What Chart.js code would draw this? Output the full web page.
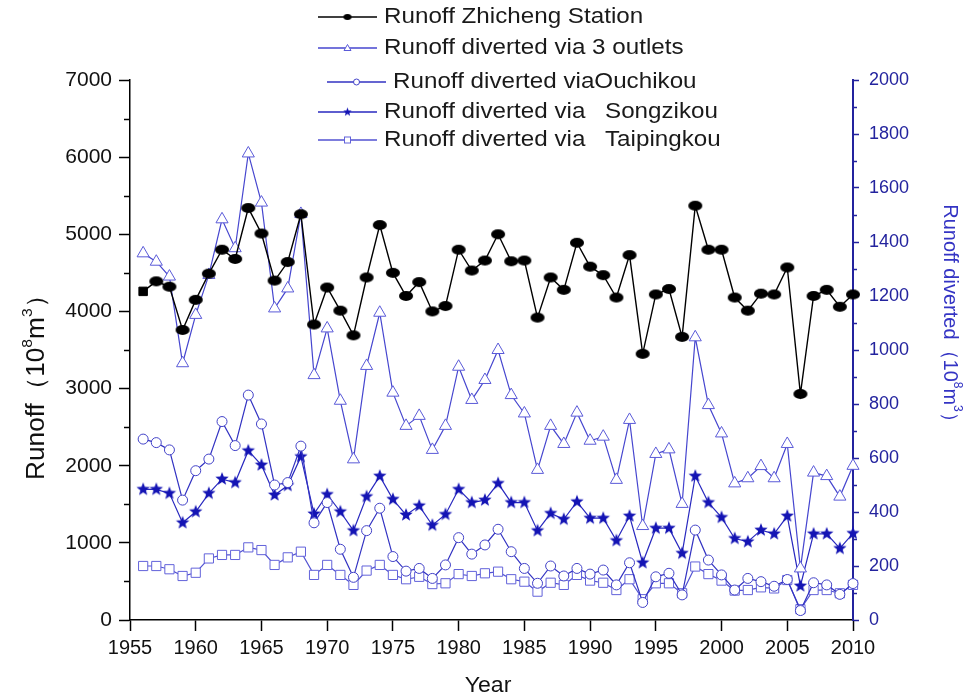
<!DOCTYPE html>
<html>
<head>
<meta charset="utf-8">
<script src="https://cdn.jsdelivr.net/npm/chart.js@4.4.0/dist/chart.umd.min.js"></script>
<style>
  html, body { margin: 0; padding: 0; background: #fff; }
  #wrap { width: 968px; height: 700px; }
</style>
</head>
<body>
<div id="wrap"><canvas id="runoffChart" width="968" height="700"></canvas></div>
<script>
const years = [
	1956, 1957, 1958, 1959, 1960, 1961, 1962, 1963, 1964, 1965,
	1966, 1967, 1968, 1969, 1970, 1971, 1972, 1973, 1974, 1975,
	1976, 1977, 1978, 1979, 1980, 1981, 1982, 1983, 1984, 1985,
	1986, 1987, 1988, 1989, 1990, 1991, 1992, 1993, 1994, 1995,
	1996, 1997, 1998, 1999, 2000, 2001, 2002, 2003, 2004, 2005,
	2006, 2007, 2008, 2009, 2010,
];

// left axis, 10^8 m3
const zhicheng = [
	4260, 4390, 4320, 3760, 4150, 4490, 4800, 4680, 5340, 5010,
	4400, 4640, 5260, 3830, 4310, 4010, 3690, 4440, 5120, 4500,
	4200, 4380, 4000, 4070, 4800, 4530, 4660, 5000, 4650, 4660,
	3920, 4440, 4280, 4890, 4580, 4470, 4180, 4730, 3450, 4220,
	4290, 3670, 5370, 4800, 4800, 4180, 4010, 4230, 4220, 4570,
	2930, 4200, 4280, 4060, 4220,
];

// right axis, 10^8 m3
const threeOutlets = [
	1358, 1327, 1272, 951, 1130, 1278, 1484, 1377, 1728, 1546,
	1154, 1228, 1504, 907, 1080, 812, 595, 941, 1138, 842,
	719, 756, 630, 719, 938, 815, 889, 1000, 833, 765,
	556, 719, 652, 768, 664, 679, 519, 741, 348, 615,
	632, 430, 1047, 796, 691, 506, 525, 570, 525, 652,
	191, 546, 533, 457, 571,
];

const ouchikou = [
	670, 657, 630, 444, 553, 596, 735, 646, 833, 726,
	500, 509, 644, 360, 435, 262, 158, 331, 414, 235,
	181, 191, 154, 204, 305, 244, 278, 336, 253, 191,
	136, 200, 163, 191, 170, 185, 130, 212, 65, 160,
	173, 93, 333, 222, 167, 111, 154, 142, 125, 150,
	35, 138, 130, 95, 135,
];

const songzikou = [
	484, 484, 469, 360, 401, 469, 522, 509, 627, 574,
	463, 498, 605, 393, 465, 401, 331, 457, 533, 447,
	389, 423, 351, 391, 484, 435, 444, 506, 435, 435,
	331, 395, 373, 438, 377, 377, 294, 385, 212, 340,
	340, 247, 533, 435, 380, 302, 290, 333, 319, 385,
	126, 319, 319, 265, 321,
];

const taipingkou = [
	200, 200, 188, 163, 175, 228, 241, 241, 269, 259,
	204, 232, 253, 167, 204, 167, 130, 183, 204, 167,
	151, 160, 133, 136, 170, 163, 173, 179, 151, 142,
	105, 138, 130, 167, 146, 138, 111, 151, 77, 136,
	136, 99, 198, 170, 146, 109, 111, 121, 117, 148,
	40, 111, 111, 99, 130,
];

const xTicks = [1955, 1960, 1965, 1970, 1975, 1980, 1985, 1990, 1995, 2000, 2005, 2010];

const FONT = "'Liberation Sans', Arial, sans-serif";
const BLUE_AXIS = "#23239e";

function toPoints(values) {
	return values.map((v, i) => ({ x: years[i], y: v }));
}

// filled ellipse marker for the Zhicheng series
function ellipseMarker(w, h, color) {
	const c = document.createElement("canvas");
	c.width = w + 2;
	c.height = h + 2;
	const g = c.getContext("2d");
	g.fillStyle = color;
	g.beginPath();
	g.ellipse(c.width / 2, c.height / 2, w / 2, h / 2, 0, 0, Math.PI * 2);
	g.fill();
	return c;
}

// filled five point star
function starMarker(r, color) {
	const c = document.createElement("canvas");
	c.width = c.height = Math.ceil(r * 2 + 2);
	const g = c.getContext("2d");
	g.fillStyle = color;
	g.beginPath();
	for (let i = 0; i < 10; i++) {
		const rad = i % 2 === 0 ? r : r * 0.42;
		const a = -Math.PI / 2 + (i * Math.PI) / 5;
		const px = c.width / 2 + rad * Math.cos(a);
		const py = c.height / 2 + rad * Math.sin(a);
		if (i === 0) g.moveTo(px, py);
		else g.lineTo(px, py);
	}
	g.closePath();
	g.fill();
	return c;
}

const dotBig = ellipseMarker(14, 10, "#000");
const dotSmall = ellipseMarker(8, 6, "#000");
const starBig = starMarker(7, "#1414b4");
const starSmall = starMarker(4.5, "#1414b4");

// superscript-aware text drawing, centred on (cx, cy)
function drawRich(ctx, parts, cx, cy, rot, size, color, sx) {
	ctx.save();
	ctx.translate(cx, cy);
	ctx.rotate(rot);
	ctx.scale(sx || 1, 1);
	ctx.fillStyle = color;
	ctx.textBaseline = "middle";
	ctx.textAlign = "left";
	const widths = parts.map((p) => {
		ctx.font = (p.sup ? Math.round(size * 0.6) : size) + "px " + FONT;
		return ctx.measureText(p.t).width;
	});
	let x = -widths.reduce((a, b) => a + b, 0) / 2;
	parts.forEach((p, i) => {
		ctx.font = (p.sup ? Math.round(size * 0.6) : size) + "px " + FONT;
		ctx.fillText(p.t, x, p.sup ? -size * 0.38 : 0);
		x += widths[i];
	});
	ctx.restore();
}

function legendText(ctx, text, x, y) {
	ctx.save();
	ctx.translate(x, y);
	ctx.scale(1.1, 1);
	ctx.fillStyle = "#1a1a1a";
	ctx.font = "22px " + FONT;
	ctx.textBaseline = "middle";
	ctx.fillText(text, 0, 0);
	const w = ctx.measureText(text).width * 1.1;
	ctx.restore();
	return w;
}

const extras = {
	id: "extras",
	afterDraw(chart) {
		const ctx = chart.ctx;
		const yl = chart.scales.y;
		const yr = chart.scales.y1;
		ctx.save();

		// minor ticks
		ctx.lineWidth = 1.5;
		ctx.strokeStyle = "#000";
		for (let v = 500; v < 7000; v += 1000) {
			const py = Math.round(yl.getPixelForValue(v)) + 0.5;
			ctx.beginPath();
			ctx.moveTo(yl.right - 6, py);
			ctx.lineTo(yl.right, py);
			ctx.stroke();
		}
		ctx.strokeStyle = BLUE_AXIS;
		for (let v = 100; v < 2000; v += 200) {
			const py = Math.round(yr.getPixelForValue(v)) + 0.5;
			ctx.beginPath();
			ctx.moveTo(yr.left, py);
			ctx.lineTo(yr.left + 4, py);
			ctx.stroke();
		}

		// axis titles
		drawRich(ctx, [{ t: "Runoff（10" }, { t: "8", sup: true }, { t: "m" }, { t: "3", sup: true }, { t: "）" }],
			37, 381, -Math.PI / 2, 25, "#111", 1.05);
		drawRich(ctx, [{ t: "Runoff diverted（10" }, { t: "8", sup: true }, { t: "m" }, { t: "3", sup: true }, { t: "）" }],
			950, 318, Math.PI / 2, 20, "#3434c4");
		drawRich(ctx, [{ t: "Year" }], 488, 686, 0, 22, "#111", 1.05);

		// legend
		const ds = chart.data.datasets;
		const rows = [
			{ y: 17, x1: 318, x2: 377, i: 0, a: "Runoff Zhicheng Station" },
			{ y: 48, x1: 318, x2: 377, i: 1, a: "Runoff diverted via 3 outlets" },
			{ y: 82, x1: 327, x2: 386, i: 2, a: "Runoff diverted via", b: "Ouchikou" },
			{ y: 112, x1: 318, x2: 377, i: 3, a: "Runoff diverted via", b: "Songzikou", bx: 605 },
			{ y: 140, x1: 318, x2: 377, i: 4, a: "Runoff diverted via", b: "Taipingkou", bx: 605 },
		];
		rows.forEach((r) => {
			const d = ds[r.i];
			const mx = (r.x1 + r.x2) / 2;
			ctx.strokeStyle = d.borderColor;
			ctx.lineWidth = 1.5;
			ctx.beginPath();
			ctx.moveTo(r.x1, r.y);
			ctx.lineTo(r.x2, r.y);
			ctx.stroke();
			ctx.lineWidth = 1;
			ctx.strokeStyle = d.pointBorderColor;
			ctx.fillStyle = "#fff";
			if (r.i === 0) {
				ctx.drawImage(dotSmall, mx - dotSmall.width / 2, r.y - dotSmall.height / 2);
			} else if (r.i === 1) {
				ctx.beginPath();
				ctx.moveTo(mx, r.y - 3.5);
				ctx.lineTo(mx + 3.5, r.y + 2.5);
				ctx.lineTo(mx - 3.5, r.y + 2.5);
				ctx.closePath();
				ctx.fill();
				ctx.stroke();
			} else if (r.i === 2) {
				ctx.beginPath();
				ctx.arc(mx, r.y, 3, 0, Math.PI * 2);
				ctx.fill();
				ctx.stroke();
			} else if (r.i === 3) {
				ctx.drawImage(starSmall, mx - starSmall.width / 2, r.y - starSmall.height / 2);
			} else {
				ctx.fillRect(mx - 3, r.y - 3, 6, 6);
				ctx.strokeRect(mx - 3, r.y - 3, 6, 6);
			}
			const w = legendText(ctx, r.a, r.x2 + 7, r.y);
			if (r.b) legendText(ctx, r.b, r.bx || r.x2 + 7 + w, r.y);
		});

		ctx.restore();
	},
};

Chart.defaults.font.family = FONT;

new Chart("runoffChart", {
	type: "line",
	data: {
		datasets: [
			{
				label: "Runoff Zhicheng Station",
				data: toPoints(zhicheng),
				yAxisID: "y",
				borderColor: "#000",
				borderWidth: 1.4,
				pointStyle: (c) => (c.dataIndex === 0 ? "rect" : dotBig),
				pointRadius: 6,
				pointBackgroundColor: "#000",
				pointBorderColor: "#000",
				pointBorderWidth: 1,
			},
			{
				label: "Runoff diverted via 3 outlets",
				data: toPoints(threeOutlets),
				yAxisID: "y1",
				borderColor: "#4646cf",
				borderWidth: 1.2,
				pointStyle: "triangle",
				pointRadius: 7,
				pointBackgroundColor: "#fff",
				pointBorderColor: "#5a5ad8",
				pointBorderWidth: 1,
			},
			{
				label: "Runoff diverted via Ouchikou",
				data: toPoints(ouchikou),
				yAxisID: "y1",
				borderColor: "#3232c2",
				borderWidth: 1.2,
				pointStyle: "circle",
				pointRadius: 5,
				pointBackgroundColor: "#fff",
				pointBorderColor: "#4242c8",
				pointBorderWidth: 1,
			},
			{
				label: "Runoff diverted via Songzikou",
				data: toPoints(songzikou),
				yAxisID: "y1",
				borderColor: "#2828bf",
				borderWidth: 1.2,
				pointStyle: starBig,
				pointRadius: 6,
				pointBackgroundColor: "#1414b4",
				pointBorderColor: "#1414b4",
			},
			{
				label: "Runoff diverted via Taipingkou",
				data: toPoints(taipingkou),
				yAxisID: "y1",
				borderColor: "#5252d2",
				borderWidth: 1.2,
				pointStyle: "rect",
				pointRadius: 6.5,
				pointBackgroundColor: "#fff",
				pointBorderColor: "#6262da",
				pointBorderWidth: 1,
			},
		],
	},
	options: {
		responsive: false,
		animation: false,
		clip: false,
		layout: { padding: { top: 80, left: 0, right: 0, bottom: 0 } },
		elements: { line: { tension: 0 } },
		plugins: {
			legend: { display: false },
			tooltip: { enabled: false },
		},
		scales: {
			x: {
				type: "linear",
				min: 1955,
				max: 2010,
				afterBuildTicks: (scale) => {
					scale.ticks = xTicks.map((v) => ({ value: v }));
				},
				afterFit: (scale) => {
					scale.height = 80;
				},
				border: { display: true, color: "#000", width: 1.5 },
				grid: { drawOnChartArea: false, drawTicks: true, tickLength: 11, tickColor: "#000", tickWidth: 1.5 },
				ticks: {
					color: "#111",
					font: { size: 20 },
					padding: 5,
					maxRotation: 0,
					autoSkip: false,
					callback: (v) => String(v),
				},
			},
			y: {
				position: "left",
				min: 0,
				max: 7000,
				afterFit: (scale) => {
					scale.width = 130;
				},
				border: { display: true, color: "#000", width: 1.5 },
				grid: { drawOnChartArea: false, drawTicks: true, tickLength: 11, tickColor: "#000", tickWidth: 1.5 },
				ticks: {
					stepSize: 1000,
					color: "#111",
					font: { size: 21 },
					padding: 7,
					callback: (v) => String(v),
				},
			},
			y1: {
				position: "right",
				min: 0,
				max: 2000,
				afterFit: (scale) => {
					scale.width = 115;
				},
				border: { display: true, color: BLUE_AXIS, width: 2 },
				grid: { drawOnChartArea: false, drawTicks: true, tickLength: 6, tickColor: BLUE_AXIS, tickWidth: 1.5 },
				ticks: {
					stepSize: 200,
					color: BLUE_AXIS,
					font: { size: 18 },
					padding: 10,
					callback: (v) => String(v),
				},
			},
		},
	},
	plugins: [extras],
});
</script>
</body>
</html>
